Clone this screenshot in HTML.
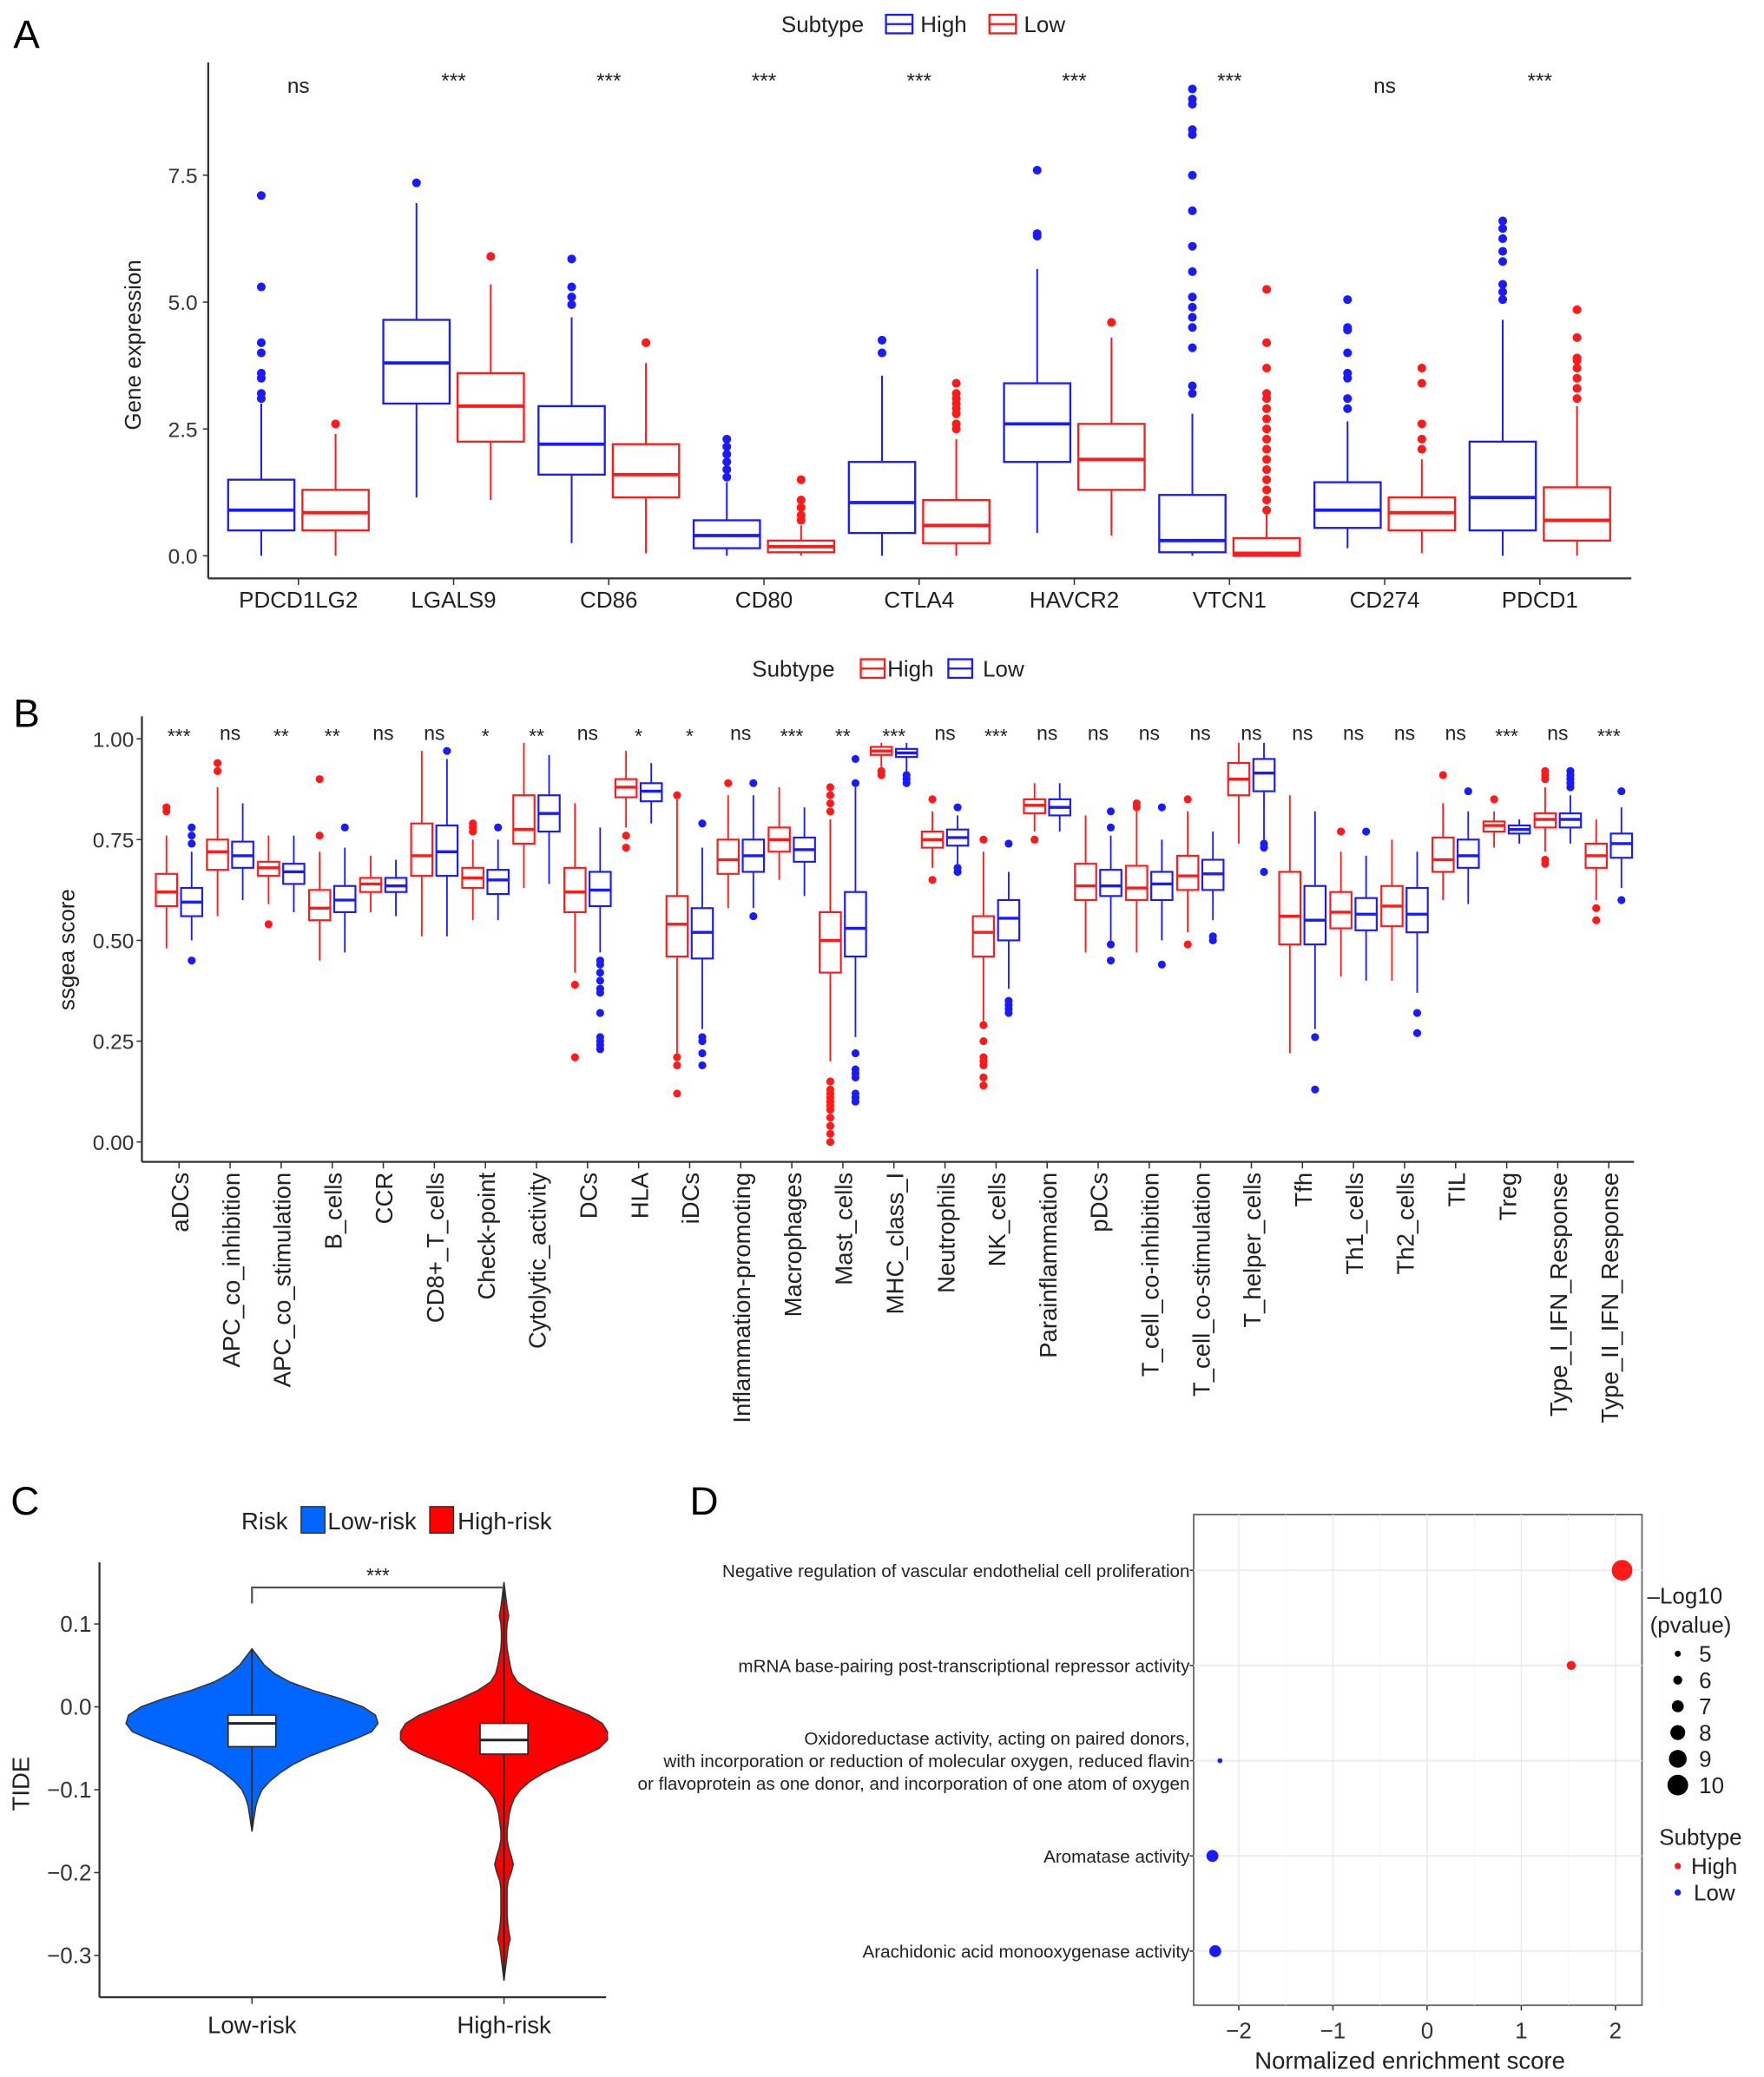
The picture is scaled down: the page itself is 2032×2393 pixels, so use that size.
<!DOCTYPE html>
<html><head><meta charset="utf-8"><title>Immune figure</title>
<style>
html,body{margin:0;padding:0;background:#fff;}
svg{display:block;font-family:"Liberation Sans",Arial,sans-serif;}
</style></head>
<body>
<svg id="fig" xmlns="http://www.w3.org/2000/svg" width="2032" height="2393" viewBox="0 0 1330 1566">
<rect x="0" y="0" width="1330" height="1566" fill="#fff"/>
</svg>
<script>
// ---------- Panel A data ----------
const aGenes = ["PDCD1LG2","LGALS9","CD86","CD80","CTLA4","HAVCR2","VTCN1","CD274","PDCD1"];
const aSig = ["ns","***","***","***","***","***","***","ns","***"];
// [q1, median, q3, whiskerLow, whiskerHigh]
const aHighStats = [[0.5,0.9,1.5,0,3.0],[3.0,3.8,4.65,1.15,6.95],[1.6,2.2,2.95,0.25,4.7],[0.15,0.4,0.7,0,1.45],[0.45,1.05,1.85,0,3.55],[1.85,2.6,3.4,0.45,5.65],[0.07,0.3,1.2,0,2.8],[0.55,0.9,1.45,0.15,2.65],[0.5,1.15,2.25,0,4.65]];
const aLowStats = [[0.5,0.85,1.3,0,2.4],[2.25,2.95,3.6,1.1,5.35],[1.15,1.6,2.2,0.05,3.8],[0.07,0.18,0.3,0,0.6],[0.25,0.6,1.1,0,2.3],[1.3,1.9,2.6,0.4,4.3],[0,0.05,0.35,0,0.85],[0.5,0.85,1.15,0.05,1.9],[0.3,0.7,1.35,0,2.95]];
const aHighOut = [[3.1,3.2,3.5,3.6,4.0,4.2,5.3,7.1],[7.35],[4.95,5.1,5.3,5.85],[1.55,1.7,1.85,2.0,2.15,2.3],[4.0,4.25],[6.3,6.35,7.6],[3.2,3.35,4.1,4.5,4.7,4.9,5.1,5.6,6.1,6.8,7.5,8.3,8.4,8.9,9.0,9.2],[2.9,3.1,3.5,3.6,4.0,4.45,4.5,5.05],[5.05,5.2,5.35,5.8,6.0,6.25,6.45,6.6]];
const aLowOut = [[2.6],[5.9],[4.2],[0.7,0.8,0.95,1.1,1.5],[2.5,2.6,2.8,2.9,3.0,3.1,3.2,3.4],[4.6],[0.9,1.1,1.3,1.5,1.7,1.9,2.1,2.3,2.5,2.7,2.9,3.1,3.2,3.7,4.2,5.25],[2.1,2.3,2.6,3.4,3.7],[3.1,3.3,3.5,3.7,3.85,3.9,4.3,4.85]];
const aTicks = [0,2.5,5,7.5];
const aTickLabels = ["0.0","2.5","5.0","7.5"];

// ---------- Panel B data ----------
const bCats = ["aDCs","APC_co_inhibition","APC_co_stimulation","B_cells","CCR","CD8+_T_cells","Check-point","Cytolytic_activity","DCs","HLA","iDCs","Inflammation-promoting","Macrophages","Mast_cells","MHC_class_I","Neutrophils","NK_cells","Parainflammation","pDCs","T_cell_co-inhibition","T_cell_co-stimulation","T_helper_cells","Tfh","Th1_cells","Th2_cells","TIL","Treg","Type_I_IFN_Response","Type_II_IFN_Response"];
const bSig = ["***","ns","**","**","ns","ns","*","**","ns","*","*","ns","***","**","***","ns","***","ns","ns","ns","ns","ns","ns","ns","ns","ns","***","ns","***"];
const bHighStats = [[0.585,0.62,0.665,0.48,0.76],[0.675,0.72,0.75,0.56,0.88],[0.66,0.68,0.695,0.59,0.76],[0.55,0.58,0.625,0.45,0.72],[0.62,0.64,0.655,0.57,0.71],[0.66,0.71,0.79,0.51,0.97],[0.63,0.655,0.68,0.55,0.75],[0.74,0.775,0.86,0.63,0.99],[0.57,0.62,0.68,0.42,0.84],[0.855,0.88,0.9,0.78,0.97],[0.46,0.54,0.61,0.22,0.85],[0.665,0.7,0.75,0.58,0.86],[0.72,0.75,0.78,0.65,0.88],[0.42,0.5,0.57,0.2,0.8],[0.96,0.97,0.98,0.93,0.99],[0.73,0.75,0.77,0.68,0.82],[0.46,0.52,0.56,0.3,0.72],[0.815,0.835,0.85,0.77,0.89],[0.6,0.635,0.69,0.47,0.81],[0.6,0.63,0.685,0.47,0.82],[0.625,0.66,0.71,0.52,0.82],[0.86,0.9,0.94,0.74,0.99],[0.49,0.56,0.67,0.22,0.86],[0.53,0.57,0.62,0.41,0.72],[0.535,0.585,0.635,0.4,0.75],[0.67,0.7,0.755,0.6,0.84],[0.77,0.785,0.795,0.73,0.82],[0.78,0.8,0.815,0.72,0.88],[0.68,0.71,0.74,0.6,0.8]];
const bLowStats = [[0.56,0.595,0.63,0.5,0.72],[0.68,0.71,0.745,0.6,0.84],[0.64,0.67,0.69,0.57,0.76],[0.57,0.6,0.635,0.47,0.73],[0.62,0.635,0.655,0.56,0.7],[0.66,0.72,0.785,0.51,0.95],[0.615,0.65,0.675,0.55,0.75],[0.77,0.815,0.86,0.64,0.96],[0.585,0.625,0.67,0.47,0.78],[0.845,0.87,0.89,0.79,0.94],[0.455,0.52,0.58,0.28,0.73],[0.67,0.71,0.75,0.58,0.86],[0.695,0.725,0.755,0.61,0.83],[0.46,0.53,0.62,0.26,0.88],[0.955,0.965,0.975,0.92,0.99],[0.735,0.755,0.775,0.69,0.81],[0.5,0.555,0.6,0.38,0.67],[0.81,0.83,0.85,0.77,0.89],[0.61,0.635,0.675,0.5,0.76],[0.6,0.64,0.67,0.5,0.75],[0.625,0.665,0.7,0.55,0.77],[0.87,0.915,0.95,0.75,0.99],[0.49,0.55,0.635,0.28,0.82],[0.525,0.565,0.605,0.4,0.71],[0.52,0.565,0.63,0.37,0.72],[0.68,0.71,0.75,0.59,0.82],[0.765,0.775,0.785,0.74,0.8],[0.78,0.8,0.815,0.74,0.86],[0.705,0.74,0.765,0.63,0.83]];
const bHighOut = [[0.82,0.83],[0.92,0.94],[0.54],[0.76,0.9],[],[],[0.77,0.78,0.79],[],[0.39,0.21],[0.76,0.73],[0.21,0.19,0.12,0.86],[0.89],[],[0.88,0.86,0.84,0.82,0.15,0.13,0.12,0.11,0.1,0.09,0.08,0.06,0.04,0.02,0.0],[0.92,0.91],[0.65,0.85],[0.75,0.29,0.25,0.21,0.2,0.19,0.16,0.14],[0.75],[],[0.83,0.84],[0.49,0.85],[],[],[0.77],[],[0.91],[0.85],[0.69,0.7,0.9,0.91,0.92],[0.58,0.55]];
const bLowOut = [[0.45,0.74,0.76,0.78],[],[],[0.78],[],[0.97],[0.78],[],[0.45,0.44,0.42,0.4,0.38,0.37,0.32,0.26,0.25,0.24,0.23],[],[0.26,0.25,0.22,0.19,0.79],[0.56,0.89],[],[0.89,0.95,0.22,0.18,0.17,0.16,0.12,0.11,0.1],[0.91,0.9,0.89],[0.67,0.68,0.83],[0.74,0.35,0.34,0.33,0.32],[],[0.45,0.49,0.78,0.82],[0.44,0.83],[0.5,0.51],[0.73,0.74,0.67],[0.26,0.13],[0.77],[0.32,0.27],[0.87],[],[0.88,0.89,0.9,0.91,0.92],[0.6,0.87]];
const bTicks = [0,0.25,0.5,0.75,1];
const bTickLabels = ["0.00","0.25","0.50","0.75","1.00"];

// ---------- Panel C data ----------
const cGroups = ["Low-risk","High-risk"];
const cLowY = [0.07,0.06,0.05,0.04,0.03,0.02,0.01,0,-0.01,-0.02,-0.03,-0.04,-0.05,-0.06,-0.07,-0.08,-0.09,-0.1,-0.11,-0.12,-0.13,-0.14,-0.15];
const cLowDens = [0,0.05,0.1,0.18,0.3,0.48,0.7,0.88,0.98,1.0,0.95,0.8,0.62,0.45,0.32,0.22,0.14,0.08,0.05,0.03,0.02,0.01,0];
const cHighY = [0.15,0.14,0.13,0.12,0.11,0.1,0.09,0.08,0.07,0.06,0.05,0.04,0.03,0.02,0.01,0,-0.01,-0.02,-0.03,-0.04,-0.05,-0.06,-0.07,-0.08,-0.09,-0.1,-0.11,-0.12,-0.13,-0.14,-0.15,-0.16,-0.17,-0.18,-0.19,-0.2,-0.21,-0.22,-0.23,-0.24,-0.25,-0.26,-0.27,-0.28,-0.29,-0.3,-0.31,-0.32,-0.33];
const cHighDens = [0,0.01,0.02,0.03,0.045,0.03,0.025,0.025,0.03,0.045,0.06,0.08,0.13,0.25,0.42,0.62,0.82,0.95,1.0,1.0,0.92,0.75,0.55,0.38,0.25,0.16,0.1,0.07,0.05,0.04,0.03,0.03,0.045,0.07,0.09,0.07,0.04,0.03,0.03,0.03,0.03,0.035,0.045,0.06,0.04,0.03,0.02,0.01,0];
// [q1, median, q3]
const cBoxes = [[-0.048,-0.02,-0.01],[-0.057,-0.04,-0.02]];
const cTicks = [-0.3,-0.2,-0.1,0,0.1];
const cTickLabels = ["\u22120.3","\u22120.2","\u22120.1","0.0","0.1"];

// ---------- Panel D data ----------
const dTerms = ["Negative regulation of vascular endothelial cell proliferation","mRNA base-pairing post-transcriptional repressor activity","Oxidoreductase activity, acting on paired donors,|with incorporation or reduction of molecular oxygen, reduced flavin|or flavoprotein as one donor, and incorporation of one atom of oxygen","Aromatase activity","Arachidonic acid monooxygenase activity"];
const dNES = [2.07,1.53,-2.2,-2.28,-2.25];
const dLogP = [10,6,4.6,7,7];
const dSubtype = ["High","High","Low","Low","Low"];
const dTicks = [-2,-1,0,1,2];
const dTickLabels = ["\u22122","\u22121","0","1","2"];
const dSizeLegend = [5,6,7,8,9,10];

const NS = "http://www.w3.org/2000/svg";
const svg = document.getElementById("fig");
function el(tag, attrs, parent, text){
  const e = document.createElementNS(NS, tag);
  for (const k in attrs) e.setAttribute(k, attrs[k]);
  if (text !== undefined) e.textContent = text;
  (parent || svg).appendChild(e);
  return e;
}
function grp(name){
  const g = el("g", {});
  
  
  return g;
}
const BLUE = "#1a1aff", RED = "#ff1a1a";

// ===== Panel A =====
(function(){
  const g = grp("panel-a");
  const X0 = 157, X1 = 1230, YB = 436, YT = 47;
  const ya = v => 419 - v * (419 - 132) / 7.5;
  const xs = i => 225 + i * (1161 - 225) / 8;
  let t = el("text", {x:10, y:36, "font-size":30}, g, "A");
  
  
  const lg = el("g", {}, g);
  
  
  el("text", {x:589, y:24, "font-size":17, fill:"#222"}, lg, "Subtype");
  el("rect", {x:668, y:11, width:20, height:14, fill:"none", stroke:BLUE, "stroke-width":1.5}, lg);
  el("line", {x1:668, x2:688, y1:18, y2:18, stroke:BLUE, "stroke-width":1.5}, lg);
  el("text", {x:694, y:24, "font-size":17, fill:"#222"}, lg, "High");
  el("rect", {x:746, y:11, width:20, height:14, fill:"none", stroke:RED, "stroke-width":1.5}, lg);
  el("line", {x1:746, x2:766, y1:18, y2:18, stroke:RED, "stroke-width":1.5}, lg);
  el("text", {x:772, y:24, "font-size":17, fill:"#222"}, lg, "Low");
  el("line", {x1:X0, y1:YT, x2:X0, y2:YB, stroke:"#333", "stroke-width":1.5}, g);
  el("line", {x1:X0, y1:YB, x2:X1, y2:YB, stroke:"#333", "stroke-width":1.5}, g);
  aTicks.forEach((v,i)=>{
    el("line", {x1:X0-4, x2:X0, y1:ya(v), y2:ya(v), stroke:"#333"}, g);
    const tl = el("text", {x:X0-8, y:ya(v)+6, "font-size":16, "text-anchor":"end", fill:"#333"}, g, aTickLabels[i]);
    
    
  });
  const yt = el("text", {x:0, y:0, "font-size":17, "text-anchor":"middle", fill:"#222", transform:"translate(106,260) rotate(-90)"}, g, "Gene expression");
  
  
  function box(cx, s, outs, col, name){
    const bg = el("g", {}, g);
    
    
    const w = 50;
    el("line", {x1:cx, x2:cx, y1:ya(s[3]), y2:ya(s[0]), stroke:col, "stroke-width":1.3}, bg);
    el("line", {x1:cx, x2:cx, y1:ya(s[2]), y2:ya(s[4]), stroke:col, "stroke-width":1.3}, bg);
    el("rect", {x:cx-w/2, y:ya(s[2]), width:w, height:ya(s[0])-ya(s[2]), fill:"#fff", stroke:col, "stroke-width":1.5}, bg);
    el("line", {x1:cx-w/2, x2:cx+w/2, y1:ya(s[1]), y2:ya(s[1]), stroke:col, "stroke-width":2.5}, bg);
    outs.forEach(v=>{ el("circle", {cx:cx, cy:ya(v), r:3.3, fill:col}, bg); });
  }
  aGenes.forEach((gn,i)=>{
    const cx = xs(i);
    box(cx-28, aHighStats[i], aHighOut[i], BLUE, "box-high-"+gn);
    box(cx+28, aLowStats[i], aLowOut[i], RED, "box-low-"+gn);
    el("line", {x1:cx, x2:cx, y1:YB, y2:YB+5, stroke:"#333"}, g);
    const xl = el("text", {x:cx, y:458, "font-size":17, "text-anchor":"middle", fill:"#222"}, g, gn);
    
    
    const sg = el("text", {x:cx, y: aSig[i]==="ns" ? 70 : 66, "font-size":16, "text-anchor":"middle", fill:"#222"}, g, aSig[i]);
    
    
  });
})();

// ===== Panel B =====
(function(){
  const g = grp("panel-b");
  const X0 = 107, X1 = 1232, YB = 876, YT = 540;
  const yb = v => 861 - v * (861 - 557);
  const xs = i => 135 + i * (1213 - 135) / 28;
  let t = el("text", {x:10, y:548, "font-size":30}, g, "B");
  
  
  const lg = el("g", {}, g);
  
  
  el("text", {x:567, y:510, "font-size":17, fill:"#222"}, lg, "Subtype");
  el("rect", {x:649, y:497, width:18, height:14, fill:"none", stroke:RED, "stroke-width":1.5}, lg);
  el("line", {x1:649, x2:667, y1:504, y2:504, stroke:RED, "stroke-width":1.5}, lg);
  el("text", {x:669, y:510, "font-size":17, fill:"#222"}, lg, "High");
  el("rect", {x:715, y:497, width:18, height:14, fill:"none", stroke:BLUE, "stroke-width":1.5}, lg);
  el("line", {x1:715, x2:733, y1:504, y2:504, stroke:BLUE, "stroke-width":1.5}, lg);
  el("text", {x:741, y:510, "font-size":17, fill:"#222"}, lg, "Low");
  el("line", {x1:X0, y1:YT, x2:X0, y2:YB, stroke:"#333", "stroke-width":1.5}, g);
  el("line", {x1:X0, y1:YB, x2:X1, y2:YB, stroke:"#333", "stroke-width":1.5}, g);
  bTicks.forEach((v,i)=>{
    el("line", {x1:X0-4, x2:X0, y1:yb(v), y2:yb(v), stroke:"#333"}, g);
    const tl = el("text", {x:X0-6, y:yb(v)+6, "font-size":16, "text-anchor":"end", fill:"#333"}, g, bTickLabels[i]);
    
    
  });
  const yt = el("text", {x:0, y:0, "font-size":17, "text-anchor":"middle", fill:"#222", transform:"translate(56,716) rotate(-90)"}, g, "ssgea score");
  
  
  function box(cx, s, outs, col, name){
    const bg = el("g", {}, g);
    
    
    const w = 16;
    el("line", {x1:cx, x2:cx, y1:yb(s[3]), y2:yb(s[0]), stroke:col, "stroke-width":1.2}, bg);
    el("line", {x1:cx, x2:cx, y1:yb(s[2]), y2:yb(s[4]), stroke:col, "stroke-width":1.2}, bg);
    el("rect", {x:cx-w/2, y:yb(s[2]), width:w, height:yb(s[0])-yb(s[2]), fill:"#fff", stroke:col, "stroke-width":1.4}, bg);
    el("line", {x1:cx-w/2, x2:cx+w/2, y1:yb(s[1]), y2:yb(s[1]), stroke:col, "stroke-width":2.2}, bg);
    outs.forEach(v=>{ el("circle", {cx:cx, cy:yb(v), r:3, fill:col}, bg); });
  }
  bCats.forEach((c,i)=>{
    const cx = xs(i);
    box(cx-9.5, bHighStats[i], bHighOut[i], RED, "box-high-"+c);
    box(cx+9.5, bLowStats[i], bLowOut[i], BLUE, "box-low-"+c);
    el("line", {x1:cx, x2:cx, y1:YB, y2:YB+5, stroke:"#333"}, g);
    const xl = el("text", {x:0, y:0, "font-size":18, "text-anchor":"end", fill:"#222", transform:"translate("+(cx+7)+",884) rotate(-90)"}, g, c);
    
    
    const sg = el("text", {x:cx, y: bSig[i]==="ns" ? 558 : 560, "font-size":15, "text-anchor":"middle", fill:"#222"}, g, bSig[i]);
    
    
  });
})();

// ===== Panel C =====
(function(){
  const g = grp("panel-c");
  const X0 = 75, YB = 1506, YT = 1178;
  const yc = v => 1287 - v * 625;
  const xs = [190, 380];
  let t = el("text", {x:8, y:1142, "font-size":30}, g, "C");
  
  
  const lg = el("g", {}, g);
  
  
  el("text", {x:182, y:1153, "font-size":18, fill:"#222"}, lg, "Risk");
  el("rect", {x:227, y:1136, width:18, height:20, fill:"#0066ff", stroke:"#222", "stroke-width":0.8}, lg);
  el("text", {x:247, y:1153, "font-size":18, fill:"#222"}, lg, "Low-risk");
  el("rect", {x:324, y:1136, width:18, height:20, fill:"#ff0000", stroke:"#222", "stroke-width":0.8}, lg);
  el("text", {x:345, y:1153, "font-size":18, fill:"#222"}, lg, "High-risk");
  el("line", {x1:X0, y1:YT, x2:X0, y2:YB, stroke:"#333", "stroke-width":1.5}, g);
  el("line", {x1:X0, y1:YB, x2:457, y2:YB, stroke:"#333", "stroke-width":1.5}, g);
  cTicks.forEach((v,i)=>{
    el("line", {x1:X0-4, x2:X0, y1:yc(v), y2:yc(v), stroke:"#333"}, g);
    const tl = el("text", {x:X0-6, y:yc(v)+6, "font-size":17, "text-anchor":"end", fill:"#333"}, g, cTickLabels[i]);
    
    
  });
  const yt = el("text", {x:0, y:0, "font-size":18, "text-anchor":"middle", fill:"#222", transform:"translate(22,1345) rotate(-90)"}, g, "TIDE");
  
  
  const ys = [cLowY, cHighY], ds = [cLowDens, cHighDens], maxW = [95, 78], cols = ["#0066ff", "#ff0000"];
  cGroups.forEach((gn,i)=>{
    const cx = xs[i];
    let p = "";
    ys[i].forEach((v,j)=>{ p += (j? "L":"M") + (cx + ds[i][j]*maxW[i]) + "," + yc(v); });
    for (let j = ys[i].length-1; j >= 0; j--) p += "L" + (cx - ds[i][j]*maxW[i]) + "," + yc(ys[i][j]);
    const v = el("path", {d:p+"Z", fill:cols[i], stroke:"#333", "stroke-width":1, "stroke-linejoin":"round"}, g);
    
    
    el("line", {x1:cx, x2:cx, y1:yc(ys[i][0]), y2:yc(ys[i][ys[i].length-1]), stroke:"#222", "stroke-width":1}, g);
    const b = cBoxes[i];
    const br = el("rect", {x:cx-18, y:yc(b[2]), width:36, height:yc(b[0])-yc(b[2]), fill:"#fff", stroke:"#222", "stroke-width":1}, g);
    
    
    el("line", {x1:cx-18, x2:cx+18, y1:yc(b[1]), y2:yc(b[1]), stroke:"#222", "stroke-width":2}, g);
    el("line", {x1:cx, x2:cx, y1:YB, y2:YB+5, stroke:"#333"}, g);
    const xl = el("text", {x:cx, y:1533, "font-size":18, "text-anchor":"middle", fill:"#222"}, g, gn);
    
    
  });
  el("path", {d:"M190,1209 L190,1197 L380,1197", fill:"none", stroke:"#555", "stroke-width":1.5}, g);
  const s = el("text", {x:285, y:1193, "font-size":15, "text-anchor":"middle", fill:"#222"}, g, "***");
  
  
})();

// ===== Panel D =====
(function(){
  const g = grp("panel-d");
  const X0 = 900, X1 = 1238, YT = 1142, YB = 1512;
  const xd = v => 1076 + v * 71;
  const rowY = i => 1184 + i * 71.8;
  const rs = v => 1.2 + (v - 4) * 1.1;
  let t = el("text", {x:520, y:1142, "font-size":30}, g, "D");
  
  
  el("rect", {x:X0, y:YT, width:X1-X0, height:YB-YT, fill:"#fff", stroke:"#666", "stroke-width":1.2}, g);
  dTicks.forEach(v=>{ el("line", {x1:xd(v), x2:xd(v), y1:YT, y2:YB, stroke:"#ebebeb", "stroke-width":1}, g); });
  dTicks.forEach(v=>{ el("line", {x1:xd(v+0.5), x2:xd(v+0.5), y1:YT, y2:YB, stroke:"#f5f5f5", "stroke-width":0.6}, g); });
  dTerms.forEach((term,i)=>{
    const y = rowY(i);
    el("line", {x1:X0, x2:X1, y1:y, y2:y, stroke:"#ebebeb", "stroke-width":1.2}, g);
    el("line", {x1:X0-3, x2:X0, y1:y, y2:y, stroke:"#333"}, g);
    const lines = term.split("|");
    lines.forEach((ln,k)=>{
      const yl = y + 5 + (k - (lines.length-1)/2) * 17;
      const tl = el("text", {x:X0-3, y:yl, "font-size":13.5, "text-anchor":"end", fill:"#222"}, g, ln);
      
      
    });
  });
  dTerms.forEach((term,i)=>{
    const c = el("circle", {cx:xd(dNES[i]), cy:rowY(i), r:rs(dLogP[i]), fill: dSubtype[i]==="High" ? RED : BLUE}, g);
    
    
  });
  dTicks.forEach((v,i)=>{
    el("line", {x1:xd(v), x2:xd(v), y1:YB, y2:YB+4, stroke:"#333"}, g);
    const tl = el("text", {x:xd(v), y:1537, "font-size":17, "text-anchor":"middle", fill:"#333"}, g, dTickLabels[i]);
    
    
  });
  const xt = el("text", {x:1063, y:1560, "font-size":18, "text-anchor":"middle", fill:"#222"}, g, "Normalized enrichment score");
  
  
  const lg = el("g", {}, g);
  
  
  el("text", {x:1242, y:1209, "font-size":17, fill:"#222"}, lg, "\u2013Log10");
  el("text", {x:1244, y:1231, "font-size":17, fill:"#222"}, lg, "(pvalue)");
  dSizeLegend.forEach((v,i)=>{
    const y = 1247 + i * 19.8;
    el("circle", {cx:1265, cy:y, r:rs(v), fill:"#000"}, lg);
    el("text", {x:1281, y:y+6, "font-size":17, fill:"#222"}, lg, String(v));
  });
  el("text", {x:1251, y:1391, "font-size":17, fill:"#222"}, lg, "Subtype");
  el("circle", {cx:1265, cy:1407, r:2.4, fill:RED}, lg);
  el("text", {x:1275, y:1413, "font-size":17, fill:"#222"}, lg, "High");
  el("circle", {cx:1265, cy:1427, r:2.4, fill:BLUE}, lg);
  el("text", {x:1277, y:1433, "font-size":17, fill:"#222"}, lg, "Low");
})();
</script>
</body></html>
